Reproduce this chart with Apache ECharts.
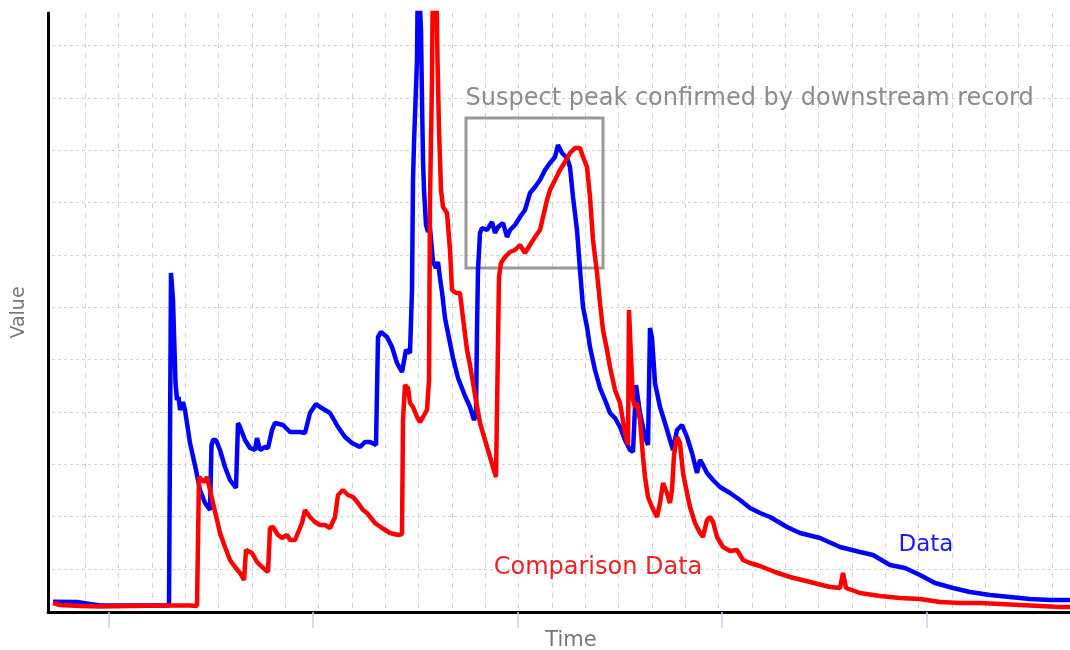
<!DOCTYPE html>
<html>
<head>
<meta charset="utf-8">
<script src="https://cdn.jsdelivr.net/npm/echarts@6/dist/echarts.min.js"></script>
<style>
html,body{margin:0;padding:0;background:#fff;}
#chart{width:1070px;height:650px;}
</style>
</head>
<body>
<div id="chart"></div>
<script>
// ---- Data (time units, value units) ----
const dataTime = [5,29,42,52,82,121,123,125,126,127.5,129,130.5,132,135,137,142,148,152,157,162,163.5,165,168,172,177,182,188,190,192,197,202,207,209,212,217,220,224,227,235,242,252,257,262,268,272,277,282,290,297,304,312,317,322,328,330,333,339,344,349,354,358,362,364,365,366,368,369,370,372,373,374,375,376,378,380,382,385,388,390,392,394,397,400,405,410,417,422,426,428,429,430,432,434,439,444,447,450,455,459,462,467,472,477,482,487,492,497,502,507,510,514,519,522,525,529,532,535,539,542,547,552,557,562,567,572,577,582,585,588,592,597,600,602,604,607,612,617,622,625,629,634,639,644,649,652,655,659,665,672,682,692,702,712,722,739,752,772,792,812,825,842,857,872,887,905,922,942,962,982,1002,1022];
const dataValues = [10.3,10,8,6.5,6.5,6.5,339,312,279,229,212,215,202,210,202,169,142,122,109,102,167,172,172,162,145,132,124,189,185,172,164,162,174,162,165,164,182,189,187,180,180,179,199,208,205,202,199,185,175,169,165,170,170,167,275,280,275,265,249,240,262,259,322,432,469,470,552,650,652,582,512,452,422,387,380,384,350,344,350,334,320,294,279,254,234,216,205,192,197,282,342,379,384,382,390,379,385,389,375,382,387,395,402,419,425,432,442,449,455,467,459,454,445,415,382,342,305,285,265,242,224,212,199,194,185,172,162,160,227,199,175,167,284,274,229,205,189,172,162,182,187,175,159,139,152,147,139,132,125,119,112,104,99,95,85,79,74,65,60,57,47,44,37,29,24,20,17,15,13,12,12];

const compTime = [5,12,32,52,82,112,142,149,151,153,156,159,162,165,169,172,177,182,187,192,196,198,200,204,209,214,220,222,225,230,234,239,242,247,254,257,262,267,272,277,282,287,290,295,300,305,310,315,319,327,334,342,350,354,355,357,360,362,365,369,372,375,379,381,382,384,385,388,389.5,391,393,395,399,402,404,408,412,415,419,422,427,432,437,442,448,449.5,450,451,453,457,462,467,472,477,482,487,492,495,499,502,507,512,517,522,527,532,535,539,542,545,549,552,555,559,562,567,572,574,577,580,581,583,585,587,589,592,595,597,600,604,609,612,615,617,619,622,624,626,629,632,635,639,642,647,652,655,659,662,665,669,675,682,689,695,702,712,727,742,762,782,792,795,798,812,832,852,872,892,912,932,952,972,992,1012,1022];
const compValues = [9,7,6,5.5,6,6.5,6.5,6,135,137,130,135,122,109,92,79,65,52,45,39,32,62,64,59,50,45,40,84,85,77,74,77,72,72,89,102,95,90,87,87,84,95,117,122,117,115,109,102,99,89,84,79,77,78,192,227,224,209,205,195,190,195,202,232,412,532,652,652,552,482,422,405,399,362,322,319,319,294,262,247,217,189,172,155,135,135,269,335,349,355,360,362,367,359,367,375,382,395,412,422,432,442,450,459,464,464,455,445,415,372,339,309,282,262,245,222,209,197,179,167,302,255,212,205,209,192,155,135,115,105,95,109,129,129,119,109,122,157,175,169,139,119,105,89,79,75,92,95,90,75,65,61,62,52,49,46,40,35,30,25,24,39,24,19,16,14,13,10,9,9,8,7,6,5,5];

const timeTicks = [61,265,470,674,879];
const timeRange = [0,1022];
const valueRange = [0,599];

const seriesNames = ['Data','Comparison Data'];
const annotationText = 'Suspect peak confirmed by downstream record';
const annotationBox = [[418,494],[555,344]];
const dataLabelAt = [878,67];
const compLabelAt = [550,44];

// ---- Chart ----
const FONT = 'DejaVu Sans';
const pair = (xs, ys) => xs.map((x,i)=>[x, ys[i]]);
const chart = echarts.init(document.getElementById('chart'), null, {renderer:'canvas'});
const hidden = {show:false};
const option = {
  animation:false,
  backgroundColor:'#ffffff',
  grid:[
    {left:48, right:0, top:13, bottom:38, containLabel:false, outerBoundsMode:'none'},
    {left:52, right:0, top:13, bottom:38, containLabel:false, outerBoundsMode:'none'},
    {left:52, right:0, top:45.7, bottom:81, containLabel:false, outerBoundsMode:'none'}
  ],
  xAxis:[
    {gridIndex:0, type:'value', min:timeRange[0], max:timeRange[1],
     name:'Time', nameLocation:'middle', nameGap:18,
     nameTextStyle:{color:'#777', fontSize:21, fontFamily:FONT, padding:[0,0,0,24]},
     axisLine:{show:true, lineStyle:{color:'#000', width:3}},
     axisTick:{show:true, inside:false, length:16, customValues:timeTicks, lineStyle:{color:'#c5d0ea', width:1.5}},
     axisLabel:{show:false}, splitLine:{show:false}, z:5},
    {gridIndex:1, type:'value', min:0, max:30.54, interval:1,
     axisLine:hidden, axisTick:hidden, axisLabel:hidden,
     splitLine:{show:true, showMinLine:false, showMaxLine:false, lineStyle:{color:'#d2d2d2', width:1, type:[5,5]}}},
    {gridIndex:2, type:'value', show:false, min:0, max:1}
  ],
  yAxis:[
    {gridIndex:0, type:'value', min:valueRange[0], max:valueRange[1],
     name:'Value', nameLocation:'middle', nameGap:19,
     nameTextStyle:{color:'#777', fontSize:19, fontFamily:FONT},
     axisLine:{show:true, onZero:false, lineStyle:{color:'#000', width:3}},
     axisTick:hidden, axisLabel:hidden, splitLine:{show:false}, z:5},
    {gridIndex:1, type:'value', show:false, min:0, max:1},
    {gridIndex:2, type:'value', min:0, max:10, interval:1,
     axisLine:hidden, axisTick:hidden, axisLabel:hidden,
     splitLine:{show:true, showMinLine:true, showMaxLine:true, lineStyle:{color:'#d2d2d2', width:1, type:[3,3]}}}
  ],
  series:[
    {name:seriesNames[0], type:'line', xAxisIndex:0, yAxisIndex:0, data:pair(dataTime, dataValues),
     showSymbol:false, symbol:'none', clip:true, lineStyle:{color:'#0000ff', width:4.5}, itemStyle:{color:'#0000ff'},
     z:3,
     markArea:{silent:true,
       itemStyle:{color:'rgba(0,0,0,0)', borderColor:'#999', borderWidth:3},
       label:{show:true, position:[1,-30], color:'#8c8c8c', fontSize:24, fontFamily:FONT, align:'left', verticalAlign:'top'},
       data:[[{name:annotationText, coord:annotationBox[0]},{coord:annotationBox[1]}]]},
     markPoint:{silent:true, symbol:'circle', symbolSize:0,
       label:{show:true, position:'inside', formatter:seriesNames[0], color:'#1a1aee', fontSize:23, fontFamily:FONT},
       data:[{coord:dataLabelAt}]}
    },
    {name:seriesNames[1], type:'line', xAxisIndex:0, yAxisIndex:0, data:pair(compTime, compValues),
     showSymbol:false, symbol:'none', clip:true, lineStyle:{color:'#ff0000', width:4.5}, itemStyle:{color:'#ff0000'},
     z:4,
     markPoint:{silent:true, symbol:'circle', symbolSize:0,
       label:{show:true, position:'inside', formatter:seriesNames[1], color:'#ee2222', fontSize:24, fontFamily:FONT},
       data:[{coord:compLabelAt}]}
    }
  ]
};
chart.setOption(option);
</script>
</body>
</html>
